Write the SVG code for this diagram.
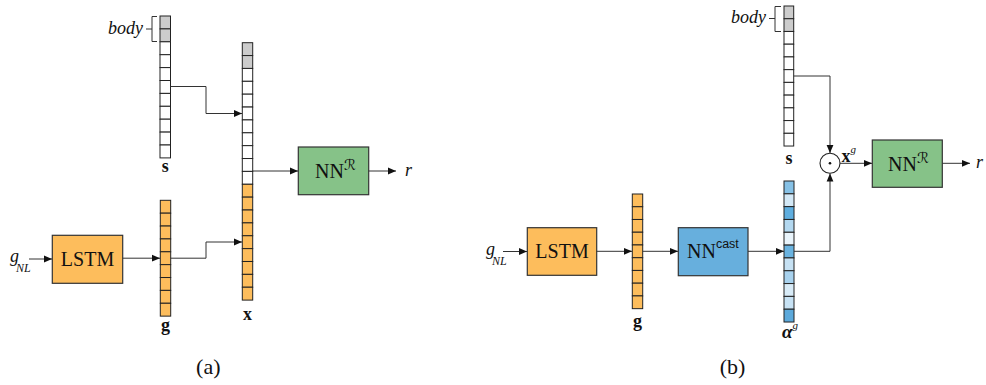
<svg xmlns="http://www.w3.org/2000/svg" width="986" height="385" viewBox="0 0 986 385">
<style>
.cell{stroke:#222;stroke-width:1}
.w{fill:#ffffff}.gr{fill:#cccccc}.or{fill:#fdbd5c}
.box{stroke:#333;stroke-width:1.2}
.lstm{fill:#fdbd5c}.nnr{fill:#86c288}.nnc{fill:#67afdd}
.con{fill:none;stroke:#333;stroke-width:1}
.br{fill:none;stroke:#333;stroke-width:1}
.t{font-family:"Liberation Serif",serif;fill:#111}
.it{font-style:italic}
.b{font-weight:bold}
.sans{font-family:"Liberation Sans",sans-serif;fill:#111}
.scr{font-family:"DejaVu Serif","DejaVu Sans",serif;font-style:normal}
</style>
<defs>
<marker id="ah" markerUnits="userSpaceOnUse" markerWidth="10" markerHeight="8" refX="8" refY="4" orient="auto">
<path d="M0,0.6 L8,4 L0,7.4 Z" fill="#111"/>
</marker>
</defs>

<!-- Panel (a) -->
<g id="a_s">
<rect class="cell gr" x="160" y="16" width="10.5" height="12.9"/>
<rect class="cell gr" x="160" y="28.9" width="10.5" height="12.9"/>
<rect class="cell w" x="160" y="41.8" width="10.5" height="12.9"/>
<rect class="cell w" x="160" y="54.7" width="10.5" height="12.9"/>
<rect class="cell w" x="160" y="67.6" width="10.5" height="12.9"/>
<rect class="cell w" x="160" y="80.5" width="10.5" height="12.9"/>
<rect class="cell w" x="160" y="93.4" width="10.5" height="12.9"/>
<rect class="cell w" x="160" y="106.3" width="10.5" height="12.9"/>
<rect class="cell w" x="160" y="119.2" width="10.5" height="12.9"/>
<rect class="cell w" x="160" y="132.1" width="10.5" height="12.9"/>
<rect class="cell w" x="160" y="145" width="10.5" height="12.9"/>
<path class="br" d="M157,16.5 H152 V41.5 H157 M152,29 H146"/>
<text class="t it" x="143" y="34" font-size="18" text-anchor="end">body</text>
<text class="t b" x="165.2" y="171.5" font-size="18" text-anchor="middle">s</text>
</g>

<g id="a_x">
<rect class="cell gr" x="242.3" y="42.7" width="10.4" height="12.87"/>
<rect class="cell gr" x="242.3" y="55.57" width="10.4" height="12.87"/>
<rect class="cell w" x="242.3" y="68.44" width="10.4" height="12.87"/>
<rect class="cell w" x="242.3" y="81.31" width="10.4" height="12.87"/>
<rect class="cell w" x="242.3" y="94.18" width="10.4" height="12.87"/>
<rect class="cell w" x="242.3" y="107.05" width="10.4" height="12.87"/>
<rect class="cell w" x="242.3" y="119.92" width="10.4" height="12.87"/>
<rect class="cell w" x="242.3" y="132.79" width="10.4" height="12.87"/>
<rect class="cell w" x="242.3" y="145.66" width="10.4" height="12.87"/>
<rect class="cell w" x="242.3" y="158.53" width="10.4" height="12.87"/>
<rect class="cell w" x="242.3" y="171.4" width="10.4" height="12.87"/>
<rect class="cell or" x="242.3" y="184.27" width="10.4" height="12.87"/>
<rect class="cell or" x="242.3" y="197.14" width="10.4" height="12.87"/>
<rect class="cell or" x="242.3" y="210.01" width="10.4" height="12.87"/>
<rect class="cell or" x="242.3" y="222.88" width="10.4" height="12.87"/>
<rect class="cell or" x="242.3" y="235.75" width="10.4" height="12.87"/>
<rect class="cell or" x="242.3" y="248.62" width="10.4" height="12.87"/>
<rect class="cell or" x="242.3" y="261.49" width="10.4" height="12.87"/>
<rect class="cell or" x="242.3" y="274.36" width="10.4" height="12.87"/>
<rect class="cell or" x="242.3" y="287.23" width="10.4" height="12.87"/>
<text class="t b" x="247.5" y="319.5" font-size="18" text-anchor="middle">x</text>
</g>

<g id="a_g">
<rect class="cell or" x="160.3" y="200.3" width="10.4" height="12.87"/>
<rect class="cell or" x="160.3" y="213.17" width="10.4" height="12.87"/>
<rect class="cell or" x="160.3" y="226.04" width="10.4" height="12.87"/>
<rect class="cell or" x="160.3" y="238.91" width="10.4" height="12.87"/>
<rect class="cell or" x="160.3" y="251.78" width="10.4" height="12.87"/>
<rect class="cell or" x="160.3" y="264.65" width="10.4" height="12.87"/>
<rect class="cell or" x="160.3" y="277.52" width="10.4" height="12.87"/>
<rect class="cell or" x="160.3" y="290.39" width="10.4" height="12.87"/>
<rect class="cell or" x="160.3" y="303.26" width="10.4" height="12.87"/>
<text class="t b" x="165.5" y="331" font-size="18" text-anchor="middle">g</text>
</g>

<g id="a_lstm">
<rect class="box lstm" x="52.3" y="235.3" width="70.4" height="48"/>
<text class="t" x="87.5" y="266" font-size="20" text-anchor="middle">LSTM</text>
</g>

<g id="a_nnr">
<rect class="box nnr" x="298.3" y="147" width="70.4" height="47.7"/>
<text class="t" x="315" y="177.5" font-size="20">NN<tspan class="scr" font-size="15" dy="-8">ℛ</tspan></text>
</g>

<g id="a_in">
<text class="t it" x="10" y="262" font-size="18">g</text>
<text class="t it" x="16" y="272" font-size="12">NL</text>
</g>
<g id="a_out">
<text class="t it" x="405" y="175.5" font-size="18">r</text>
</g>

<g id="a_connectors">
<path class="con" d="M29,259 H52" marker-end="url(#ah)"/>
<path class="con" d="M122.7,258.2 H160" marker-end="url(#ah)"/>
<path class="con" d="M170.5,86.5 H206 V113.5 H242" marker-end="url(#ah)"/>
<path class="con" d="M170.7,258.2 H206 V242 H242" marker-end="url(#ah)"/>
<path class="con" d="M252.7,171 H298" marker-end="url(#ah)"/>
<path class="con" d="M368.7,171 H396" marker-end="url(#ah)"/>
</g>

<text class="t" x="208.3" y="374" font-size="22" text-anchor="middle">(a)</text>

<!-- Panel (b) -->
<g id="b_s">
<rect class="cell gr" x="784" y="6" width="9.7" height="12.73"/>
<rect class="cell gr" x="784" y="18.73" width="9.7" height="12.73"/>
<rect class="cell w" x="784" y="31.46" width="9.7" height="12.73"/>
<rect class="cell w" x="784" y="44.19" width="9.7" height="12.73"/>
<rect class="cell w" x="784" y="56.92" width="9.7" height="12.73"/>
<rect class="cell w" x="784" y="69.65" width="9.7" height="12.73"/>
<rect class="cell w" x="784" y="82.38" width="9.7" height="12.73"/>
<rect class="cell w" x="784" y="95.11" width="9.7" height="12.73"/>
<rect class="cell w" x="784" y="107.84" width="9.7" height="12.73"/>
<rect class="cell w" x="784" y="120.57" width="9.7" height="12.73"/>
<rect class="cell w" x="784" y="133.3" width="9.7" height="12.73"/>
<path class="br" d="M781,6.5 H775 V31.5 H781 M775,18.5 H769"/>
<text class="t it" x="766" y="23" font-size="18" text-anchor="end">body</text>
<text class="t b" x="789" y="163.5" font-size="18" text-anchor="middle">s</text>
</g>

<g id="b_lstm">
<rect class="box lstm" x="527.3" y="227.7" width="69.4" height="47.6"/>
<text class="t" x="562" y="258" font-size="20" text-anchor="middle">LSTM</text>
</g>

<g id="b_g">
<rect class="cell or" x="632.3" y="194" width="10.4" height="12.74"/>
<rect class="cell or" x="632.3" y="206.74" width="10.4" height="12.74"/>
<rect class="cell or" x="632.3" y="219.48" width="10.4" height="12.74"/>
<rect class="cell or" x="632.3" y="232.22" width="10.4" height="12.74"/>
<rect class="cell or" x="632.3" y="244.96" width="10.4" height="12.74"/>
<rect class="cell or" x="632.3" y="257.7" width="10.4" height="12.74"/>
<rect class="cell or" x="632.3" y="270.44" width="10.4" height="12.74"/>
<rect class="cell or" x="632.3" y="283.18" width="10.4" height="12.74"/>
<rect class="cell or" x="632.3" y="295.92" width="10.4" height="12.74"/>
<text class="t b" x="637.5" y="327" font-size="18" text-anchor="middle">g</text>
</g>

<g id="b_nncast">
<rect class="box nnc" x="678.3" y="227.7" width="69.7" height="48"/>
<text class="t" x="687" y="258" font-size="20">NN<tspan class="sans" font-size="12.5" dy="-10">cast</tspan></text>
</g>

<g id="b_alpha">
<rect class="cell" fill="#86c1e6" x="784" y="181" width="10" height="12.82"/>
<rect class="cell" fill="#d3e8f6" x="784" y="193.82" width="10" height="12.82"/>
<rect class="cell" fill="#5faedf" x="784" y="206.64" width="10" height="12.82"/>
<rect class="cell" fill="#b3d8f0" x="784" y="219.46" width="10" height="12.82"/>
<rect class="cell" fill="#e9f4fb" x="784" y="232.28" width="10" height="12.82"/>
<rect class="cell" fill="#6ab3e0" x="784" y="245.1" width="10" height="12.82"/>
<rect class="cell" fill="#c6e1f3" x="784" y="257.92" width="10" height="12.82"/>
<rect class="cell" fill="#a8d2ee" x="784" y="270.74" width="10" height="12.82"/>
<rect class="cell" fill="#d8ebf7" x="784" y="283.56" width="10" height="12.82"/>
<rect class="cell" fill="#c7e2f4" x="784" y="296.38" width="10" height="12.82"/>
<rect class="cell" fill="#5ca9db" x="784" y="309.2" width="10" height="12.82"/>
<text class="t b it" x="782" y="338" font-size="19">α<tspan class="it" font-weight="normal" font-size="11" dy="-9">g</tspan></text>
</g>

<g id="b_odot">
<circle cx="830" cy="163.3" r="10" fill="#fff" stroke="#222" stroke-width="1.1"/>
<circle cx="830" cy="163.3" r="1.3" fill="#111"/>
<text class="t b" x="841.5" y="162" font-size="18">x<tspan class="it" font-weight="normal" font-size="11" dy="-9">g</tspan></text>
</g>

<g id="b_nnr">
<rect class="box nnr" x="872.3" y="140" width="70" height="47.3"/>
<text class="t" x="888" y="170.5" font-size="20">NN<tspan class="scr" font-size="15" dy="-8">ℛ</tspan></text>
</g>

<g id="b_in">
<text class="t it" x="486" y="255" font-size="18">g</text>
<text class="t it" x="492" y="265" font-size="12">NL</text>
</g>
<g id="b_out">
<text class="t it" x="976" y="168" font-size="18">r</text>
</g>

<g id="b_connectors">
<path class="con" d="M503,251.5 H527" marker-end="url(#ah)"/>
<path class="con" d="M596.7,251.3 H632" marker-end="url(#ah)"/>
<path class="con" d="M642.7,251.3 H678" marker-end="url(#ah)"/>
<path class="con" d="M748,251.3 H784" marker-end="url(#ah)"/>
<path class="con" d="M793.7,76 H830 V153" marker-end="url(#ah)"/>
<path class="con" d="M794,251.3 H830 V173.5" marker-end="url(#ah)"/>
<path class="con" d="M840,163.3 H872" marker-end="url(#ah)"/>
<path class="con" d="M942.3,163.3 H970" marker-end="url(#ah)"/>
</g>

<text class="t" x="732.5" y="374" font-size="22" text-anchor="middle">(b)</text>
</svg>
